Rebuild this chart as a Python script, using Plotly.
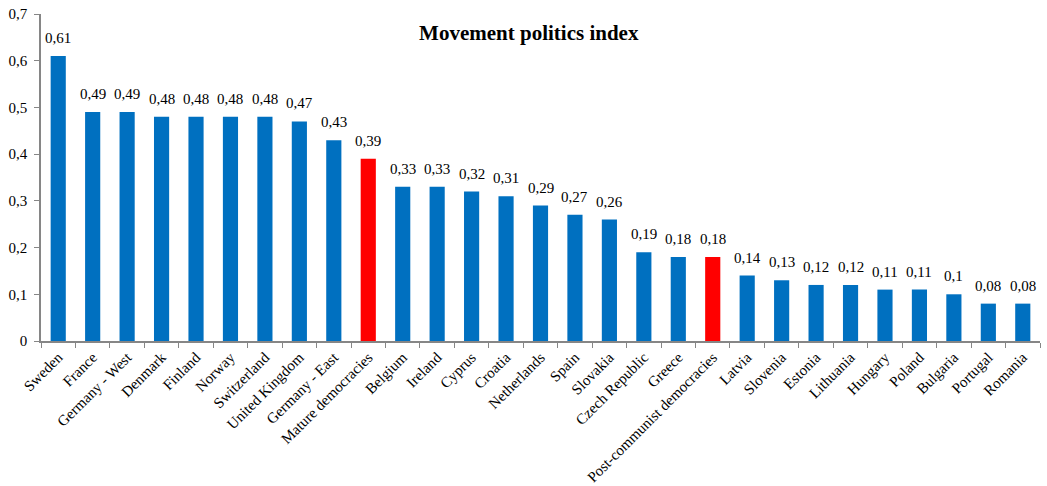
import plotly.graph_objects as go

categories = ["Sweden", "France", "Germany - West", "Denmark", "Finland", "Norway",
              "Switzerland", "United Kingdom", "Germany - East", "Mature democracies",
              "Belgium", "Ireland", "Cyprus", "Croatia", "Netherlands", "Spain",
              "Slovakia", "Czech Republic", "Greece", "Post-communist democracies",
              "Latvia", "Slovenia", "Estonia", "Lithuania", "Hungary", "Poland",
              "Bulgaria", "Portugal", "Romania"]
values = [0.61, 0.49, 0.49, 0.48, 0.48, 0.48, 0.48, 0.47, 0.43, 0.39,
          0.33, 0.33, 0.32, 0.31, 0.29, 0.27, 0.26, 0.19, 0.18, 0.18,
          0.14, 0.13, 0.12, 0.12, 0.11, 0.11, 0.10, 0.08, 0.08]
highlight = ["Mature democracies", "Post-communist democracies"]

colors = ["#FF0000" if c in highlight else "#0070C0" for c in categories]
labels = [f"{v:g}".replace(".", ",") for v in values]

font = "Liberation Serif, Times New Roman, serif"

fig = go.Figure(go.Bar(
    x=categories, y=values, marker=dict(color=colors, line=dict(width=0)),
    width=0.44,
))

for c, v, t in zip(categories, values, labels):
    fig.add_annotation(x=c, y=v, text=t, showarrow=False, yanchor="bottom",
                       yshift=8, font=dict(family=font, size=15, color="black"))

fig.update_layout(
    width=1047, height=486,
    margin=dict(l=41, r=7, t=14, b=145),
    paper_bgcolor="white", plot_bgcolor="white",
    separators=", ",
    font=dict(family=font, size=15, color="black"),
    showlegend=False,
    title=dict(text="<b>Movement politics index</b>", x=0.505, xanchor="center",
               y=0.933, yanchor="middle", font=dict(family=font, size=21, color="black")),
    xaxis=dict(tickangle=-45, tickson="boundaries", ticks="outside", ticklen=5,
               tickcolor="#868686", showline=True, linecolor="#868686", linewidth=1.5,
               showgrid=False, automargin=False, tickfont=dict(family=font, size=15)),
    yaxis=dict(range=[0, 0.7], dtick=0.1, ticks="outside", ticklen=5,
               tickcolor="#868686", showline=True, linecolor="#868686", linewidth=1.5,
               showgrid=False, zeroline=False, automargin=False, ticklabelstandoff=4,
               tickfont=dict(family=font, size=15)),
)

fig.write_html("out.html")
